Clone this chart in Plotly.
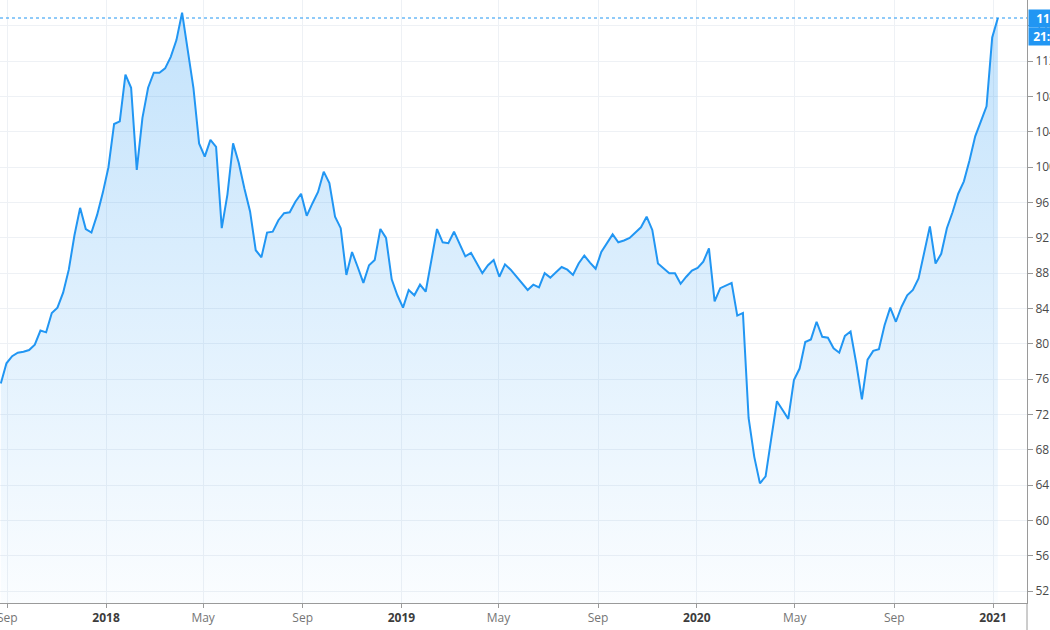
import pandas as pd
import plotly.graph_objects as go

# ---- data (weekly closes) ----
start_date = "2017-08-24"
values = [
    75.5, 77.8, 78.6, 79.0, 79.1, 79.3, 79.9, 81.5, 81.3, 83.5, 84.1, 85.8, 88.4, 92.3, 95.4, 93.0,
    92.6, 94.6, 97.1, 100.0, 104.9, 105.2, 110.5, 109.0, 99.7, 105.6, 109.0, 110.7, 110.7, 111.2, 112.5,
    114.4, 117.5, 113.3, 109.0, 102.7, 101.2, 103.1, 102.3, 93.1, 96.9, 102.7, 100.5, 97.6, 95.0,
    90.6, 89.8, 92.6, 92.7, 94.0, 94.8, 94.9, 96.1, 97.0, 94.5, 95.9, 97.2, 99.5, 98.2,
    94.4, 93.1, 87.8, 90.4, 88.7, 86.9, 88.9, 89.5, 93.0, 92.0, 87.3, 85.5, 84.1, 86.1, 85.5,
    86.7, 85.9, 89.5, 93.0, 91.5, 91.4, 92.7, 91.2, 89.9, 90.3, 89.2, 88.0, 88.9, 89.5,
    87.6, 89.0, 88.4, 87.6, 86.9, 86.1, 86.7, 86.4, 88.0, 87.5, 88.1, 88.7, 88.4, 87.8, 89.1,
    90.0, 89.2, 88.5, 90.4, 91.4, 92.4, 91.5, 91.7, 92.0, 92.6, 93.2, 94.4, 92.9, 89.1,
    88.6, 88.0, 88.0, 86.8, 87.6, 88.3, 88.6, 89.3, 90.8, 84.8, 86.3, 86.6, 86.9, 83.2, 83.5,
    71.6, 67.2, 64.2, 65.0, 69.3, 73.5, 72.5, 71.5, 75.9, 77.2, 80.2, 80.5, 82.5, 80.8, 80.7,
    79.5, 79.0, 80.9, 81.4, 77.8, 73.7, 78.2, 79.2, 79.4, 82.1, 84.1, 82.5, 84.2, 85.5, 86.1,
    87.4, 90.3, 93.3, 89.1, 90.2, 93.1, 94.9, 97.0, 98.4, 100.8, 103.5, 105.2, 106.9, 114.7, 116.9,
]
dates = pd.date_range(start_date, periods=len(values), freq="7D")

x_tick_dates = ["2017-09-01", "2018-01-01", "2018-05-01", "2018-09-01", "2019-01-01",
                "2019-05-01", "2019-09-01", "2020-01-01", "2020-05-01", "2020-09-01", "2021-01-01"]
x_tick_labels = ["Sep", "2018", "May", "Sep", "2019", "May", "Sep", "2020", "May", "Sep", "2021"]
y_tick_values = [52, 56, 60, 64, 68, 72, 76, 80, 84, 88, 92, 96, 100, 104, 108, 112, 116]
last_label = f"{values[-1]:.2f}"
countdown_label = "21:36:18"

x_range = ["2017-08-23", "2021-02-12"]
y_range = [50.65, 118.94]

BLUE = "#2196f3"
GRID = "#eef1f5"
AXIS = "#9a9a9a"

def fmt_tick(t):
    if t.isdigit():
        return f"<b><span style='color:#3c3c3c'>{t}</span></b>"
    return f"<span style='color:#757575'>{t}</span>"

fig = go.Figure()
fig.add_trace(go.Scatter(
    x=dates, y=values, mode="lines",
    line=dict(color=BLUE, width=2),
    fill="tozeroy",
    fillgradient=dict(type="vertical", start=y_range[0], stop=117.5,
                      colorscale=[[0, "rgba(33,150,243,0.02)"], [1, "rgba(33,150,243,0.27)"]]),
    hoverinfo="skip",
))

fig.update_layout(
    width=1050, height=630,
    margin=dict(l=0, r=23, t=0, b=27, autoexpand=False),
    paper_bgcolor="white", plot_bgcolor="white",
    showlegend=False,
    font=dict(family="Open Sans, sans-serif", size=12, color="#4a4a4a"),
    xaxis=dict(
        range=x_range, type="date", automargin=False,
        tickmode="array", tickvals=x_tick_dates,
        ticktext=[fmt_tick(t) for t in x_tick_labels],
        ticklabeloverflow="allow",
        showgrid=True, gridcolor=GRID, gridwidth=1,
        ticks="outside", ticklen=4, tickcolor=AXIS,
        showline=True, linecolor=AXIS, linewidth=1,
        zeroline=False, tickfont=dict(size=12),
    ),
    yaxis=dict(
        range=y_range, side="right", automargin=False,
        tickmode="array", tickvals=y_tick_values,
        ticktext=[str(v) for v in y_tick_values],
        ticklabeloverflow="allow",
        showgrid=True, gridcolor=GRID, gridwidth=1,
        ticks="outside", ticklen=5, tickcolor=AXIS,
        showline=True, linecolor=AXIS, linewidth=1,
        zeroline=False, tickfont=dict(size=12, color="#4a4a4a"),
    ),
)

# last price dotted line
fig.add_shape(type="line", xref="paper", yref="y", x0=0, x1=1,
              y0=values[-1], y1=values[-1],
              line=dict(color=BLUE, width=1, dash="dot"), layer="above")
# price scale separator extending below x axis
fig.add_shape(type="line", xref="paper", yref="paper", x0=1, x1=1,
              y0=0, y1=-27 / 603, line=dict(color=AXIS, width=1))

# price / countdown tags
fig.add_annotation(xref="paper", yref="y", x=1, y=values[-1], xanchor="left", yanchor="middle",
                   xshift=1, text=f"&nbsp;&nbsp;<b>{last_label}</b>", showarrow=False,
                   bgcolor=BLUE, font=dict(color="white", size=12), borderpad=1,
                   align="left", width=52, height=15)
fig.add_annotation(xref="paper", yref="y", x=1, y=values[-1], xanchor="left", yanchor="middle",
                   xshift=1, yshift=-18, text=f"&nbsp;<b>{countdown_label}</b>", showarrow=False,
                   bgcolor=BLUE, font=dict(color="white", size=12), borderpad=1,
                   align="left", width=62, height=15)

fig.write_html("out.html")
